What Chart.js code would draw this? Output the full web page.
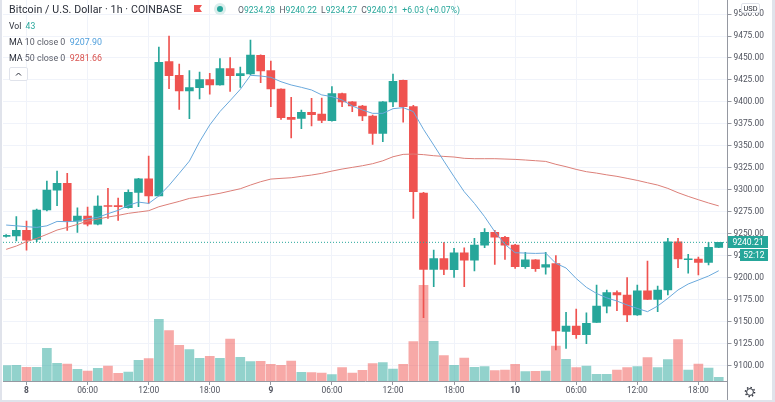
<!DOCTYPE html>
<html>
<head>
<meta charset="utf-8">
<title>Bitcoin / U.S. Dollar</title>
<script src="https://cdn.jsdelivr.net/npm/chart.js@4"></script>
<style>
    html, body { margin: 0; padding: 0; background: #fff; overflow: hidden; }
    #wrap { position: relative; width: 775px; height: 402px; font-family: Roboto, sans-serif; color: #2a2e39; filter: blur(0.3px); }
    canvas { position: absolute; left: 0; top: 0; }
    .txt { position: absolute; white-space: pre; font-size: 8.6px; line-height: 12px; }
    .ma { font-size: 8.9px; }
    .title { font-size: 10.6px; left: 9px; top: 3.5px; letter-spacing: 0.1px; color: #2a2e39; }
    .green { color: #26a69a; }
    .grey { color: #5d606b; }
    .strip { position: absolute; background: #e0e3eb; }
    .flag { position: absolute; left: 194px; top: 5px; width: 8px; height: 7px; background: #ef5350;
            clip-path: polygon(0 0, 100% 0, 70% 50%, 100% 100%, 0 100%); }
    .ring { position: absolute; left: 214px; top: 3px; width: 12px; height: 12px; border-radius: 50%; background: #d9eeec; }
    .dot { position: absolute; left: 217px; top: 6px; width: 6px; height: 6px; border-radius: 50%; background: #26a69a; }
    .fold { position: absolute; left: 9px; top: 67px; width: 19px; height: 14px; border: 1px solid #e0e3eb; border-radius: 2px;
            background: #fff; box-sizing: border-box; }
    .box { position: absolute; background: #26a69a; color: #fff; font-size: 8.6px; line-height: 12px; text-align: center; }
    .usd { position: absolute; left: 741px; top: 3px; width: 19px; height: 10px; background: #fff; border: 1px solid #e0e3eb;
           border-radius: 2px; font-size: 7.4px; line-height: 9px; text-align: center; box-sizing: border-box; color: #2a2e39; }
    .vline { position: absolute; left: 727px; top: 381px; width: 1px; height: 19px; background: #9598a1; }
</style>
</head>
<body>
<div id="wrap">
    <canvas id="priceChart" width="775" height="402"></canvas>
    <div class="strip" style="left:0;top:0;width:2px;height:402px"></div>
    <div class="strip" style="left:772px;top:0;width:3px;height:402px"></div>
    <div class="strip" style="left:0;top:400px;width:775px;height:2px"></div>
    <div class="vline"></div>

    <div class="txt title">Bitcoin / U.S. Dollar · 1h · COINBASE</div>
    <div class="flag"></div>
    <div class="ring"></div>
    <div class="dot"></div>
    <div class="txt" style="left:238px;top:3.5px"><span class="grey">O</span><span class="green">9234.28</span>  <span class="grey">H</span><span class="green">9240.22</span>  <span class="grey">L</span><span class="green">9234.27</span>  <span class="grey">C</span><span class="green">9240.21</span>  <span class="green">+6.03 (+0.07%)</span></div>
    <div class="txt" style="left:9px;top:19.5px">Vol  <span class="green">43</span></div>
    <div class="txt ma" style="left:9px;top:35.5px">MA <span class="grey">10 close 0</span>  <span style="color:#4f9fdc">9207.90</span></div>
    <div class="txt ma" style="left:9px;top:52px">MA <span class="grey">50 close 0</span>  <span style="color:#d9534f">9281.66</span></div>
    <div class="fold">
        <svg width="17" height="12" style="position:absolute;left:0;top:0"><path d="M6 7.5 L8.5 5 L11 7.5" fill="none" stroke="#2a2e39" stroke-width="1"/></svg>
    </div>

    <div class="usd">USD</div>
    <div class="box" style="left:728px;top:236px;width:40px;height:12px">9240.21</div>
    <div class="box" style="left:740px;top:249px;width:28px;height:12px">52:12</div>

    <svg width="12" height="12" style="position:absolute;left:744px;top:385.5px">
        <circle cx="6" cy="6" r="3.4" fill="none" stroke="#2a2e39" stroke-width="1"/>
        <circle cx="6" cy="6" r="4.6" fill="none" stroke="#2a2e39" stroke-width="1.4" stroke-dasharray="1.4 2.2"/>
    </svg>
</div>

<script>
/* ==================== Data ==================== */
const opens = [9247, 9247.4, 9254, 9243.6, 9277, 9299.7, 9307.3, 9264.4, 9270, 9261,
    9282, 9281.5, 9279.6, 9297, 9312.6, 9293, 9445.8, 9430.3, 9412.5, 9416.2,
    9425.3, 9419.3, 9437.9, 9429.9, 9432, 9453, 9435.6, 9414.7, 9382.5, 9381.3,
    9388.2, 9386.3, 9378.7, 9409.4, 9400, 9395.4, 9384, 9364.3, 9400, 9424.6,
    9394.6, 9296.3, 9209.4, 9221.6, 9209, 9228.4, 9220, 9237, 9251.5, 9246,
    9237, 9212.5, 9220.4, 9212, 9216, 9138.9, 9145, 9135, 9149, 9167.7,
    9183, 9180.3, 9157.5, 9185, 9175.3, 9186, 9240.9, 9220.4, 9221.2, 9217.4,
    9234.28];
const highs = [9249, 9269.4, 9264.4, 9278, 9310, 9321.3, 9318.7, 9279.6, 9280.4, 9293,
    9301.6, 9290.6, 9300, 9313, 9338.4, 9462.5, 9475, 9443, 9435.6, 9434,
    9432.6, 9449.2, 9450.4, 9439.8, 9470.5, 9453.5, 9446.6, 9415, 9405.2, 9390.8,
    9404, 9404.5, 9417.4, 9410, 9400.5, 9396, 9385, 9400.5, 9431.8, 9425,
    9396, 9297, 9231.4, 9239.8, 9233.3, 9234, 9244.7, 9256, 9253.8, 9247,
    9238, 9228.8, 9220.6, 9228.8, 9225, 9160.5, 9164.3, 9160, 9191.6, 9186,
    9185, 9200, 9191.6, 9218.9, 9190.5, 9244.7, 9244.7, 9226.5, 9223.5, 9240.2,
    9240.22];
const lows = [9246, 9241.7, 9231.4, 9241, 9276, 9281.9, 9253.8, 9251.5, 9259, 9260,
    9267.5, 9265.2, 9279, 9280.8, 9284.5, 9293, 9415, 9391.6, 9381, 9403.3,
    9408.7, 9419, 9412, 9416.6, 9430.6, 9422, 9394.6, 9380, 9359, 9369.6,
    9372.6, 9376.4, 9378, 9394.6, 9389, 9378.7, 9351.7, 9354.7, 9394.6, 9377,
    9267.5, 9154.5, 9189.7, 9203.4, 9200.4, 9189.7, 9207.6, 9234, 9215, 9220.8,
    9210.6, 9210.6, 9207, 9204, 9117.7, 9119.6, 9131, 9125, 9149, 9160,
    9162.4, 9150, 9157, 9175, 9161.3, 9180.3, 9211.3, 9205, 9203, 9214.4,
    9234.27];
const closes = [9248, 9254, 9242.8, 9277, 9299.7, 9307.3, 9264.4, 9270, 9261, 9281.5,
    9281, 9280.8, 9297, 9312.6, 9293, 9445, 9429.9, 9412.5, 9416.2, 9425.3,
    9419.3, 9437.9, 9429.9, 9432.2, 9453.4, 9435.2, 9414.7, 9382, 9380.2, 9388.2,
    9385.5, 9379, 9409.4, 9400, 9395.4, 9384, 9364.3, 9400, 9423.4, 9394.6,
    9297.8, 9209.4, 9221.6, 9209.4, 9228.4, 9220, 9237, 9251.5, 9246, 9237,
    9212.5, 9220.4, 9210.2, 9215, 9139.3, 9145, 9135, 9148, 9167.7, 9183,
    9180.3, 9157.5, 9185, 9175.3, 9186, 9240.9, 9221.2, 9221.2, 9217.4, 9234.5,
    9240.21];
const volumes = [184, 188, 164, 164, 392, 212, 204, 140, 120, 152,
    180, 92, 108, 248, 268, 740, 604, 428, 376, 272,
    296, 272, 504, 284, 232, 236, 200, 188, 240, 104,
    100, 96, 76, 160, 96, 128, 208, 220, 144, 200,
    472, 1148, 476, 304, 188, 276, 164, 172, 124, 132,
    200, 112, 116, 120, 420, 260, 160, 180, 80, 80,
    132, 160, 172, 280, 160, 256, 496, 132, 204, 156,
    43];
const ma10 = [9259.9, 9259, 9258, 9257.2, 9259, 9264, 9263.7, 9264.4, 9267, 9268.6,
    9272.8, 9276.6, 9282.3, 9286, 9284.5, 9293, 9305, 9318.7, 9332.7, 9354.7,
    9373.8, 9389, 9401.5, 9414.3, 9430.3, 9429.5, 9428, 9423, 9419.3, 9416.6,
    9413.6, 9408, 9406, 9402.2, 9395.4, 9390.8, 9387, 9387, 9392.3, 9393.5,
    9389, 9368.8, 9350.9, 9332.7, 9314.9, 9297.8, 9284.5, 9269.4, 9252.3, 9237.9,
    9228.4, 9228, 9227.6, 9228, 9216.3, 9211, 9199, 9189, 9182, 9177,
    9173.4, 9168.9, 9165, 9161.3, 9167.7, 9176.5, 9186, 9192.8, 9197.3, 9201.9,
    9207.9];
const ma50 = [9232.2, 9236, 9241, 9244.7, 9249.3, 9254.2, 9257.2, 9260.6, 9264.4, 9266.7,
    9269, 9270.9, 9273.2, 9274.7, 9276.2, 9280.7, 9283.8, 9286.8, 9290.2, 9292,
    9294, 9296, 9298.6, 9301.2, 9305.4, 9309.2, 9312.2, 9313, 9313.7, 9315.3,
    9316.8, 9318.7, 9321.3, 9323.6, 9325.5, 9327.4, 9329.7, 9333, 9337.6, 9340.3,
    9340.7, 9340, 9338.8, 9338, 9337.3, 9335.8, 9335.4, 9335.4, 9335.4, 9335,
    9334.6, 9333.9, 9333.1, 9332.3, 9329, 9326.3, 9323.2, 9320.6, 9319, 9317,
    9315.3, 9313, 9310.7, 9308, 9305.4, 9301.6, 9296.7, 9292.5, 9288.7, 9285,
    9281.66];
const timeTickIndexes = [2, 8, 14, 20, 26, 32, 38, 44, 50, 56, 62, 68];
const timeTickLabels = ['8', '06:00', '12:00', '18:00', '9', '06:00', '12:00', '18:00', '10', '06:00', '12:00', '18:00'];
const dayTickLabels = ['8', '9', '10'];
const lastPrice = 9240.21;

/* ==================== Colours ==================== */
const UP_COLOR = '#26a69a';
const DOWN_COLOR = '#ef5350';
const UP_VOLUME = 'rgba(38, 166, 154, 0.5)';
const DOWN_VOLUME = 'rgba(239, 83, 80, 0.5)';
const GRID_COLOR = '#f0f3fa';
const AXIS_COLOR = '#9598a1';

const isUp = i => closes[i] >= opens[i];

/* ==================== Datasets ==================== */
const volumeData = volumes.map((v, i) => ({ x: i, y: v }));
const wickData = highs.map((h, i) => ({ x: i, y: [lows[i], h] }));
const bodyData = opens.map((o, i) => ({ x: i, y: [o, closes[i]] }));
const ma10Data = ma10.map((v, i) => ({ x: i, y: v }));
const ma50Data = ma50.map((v, i) => ({ x: i, y: v }));

const X_MIN = -0.31;
const X_MAX = 70.86;

new Chart(document.getElementById('priceChart'), {
    type: 'bar',
    data: {
        datasets: [
            {
                data: volumeData,
                yAxisID: 'vol',
                grouped: false,
                barThickness: 9,
                order: 5,
                backgroundColor: volumes.map((v, i) => isUp(i) ? UP_VOLUME : DOWN_VOLUME)
            },
            {
                data: wickData,
                yAxisID: 'y',
                grouped: false,
                barThickness: 1,
                order: 4,
                backgroundColor: highs.map((v, i) => isUp(i) ? UP_COLOR : DOWN_COLOR)
            },
            {
                data: bodyData,
                yAxisID: 'y',
                grouped: false,
                barThickness: 8,
                minBarLength: 1,
                order: 3,
                backgroundColor: opens.map((v, i) => isUp(i) ? UP_COLOR : DOWN_COLOR)
            },
            {
                type: 'line',
                data: [{ x: X_MIN, y: lastPrice }, { x: X_MAX, y: lastPrice }],
                yAxisID: 'y',
                order: 2,
                borderColor: UP_COLOR,
                borderWidth: 1,
                borderDash: [1, 2],
                pointRadius: 0
            },
            {
                type: 'line',
                data: ma50Data,
                yAxisID: 'y',
                order: 1,
                borderColor: '#dc7f78',
                borderWidth: 1,
                pointRadius: 0
            },
            {
                type: 'line',
                data: ma10Data,
                yAxisID: 'y',
                order: 0,
                borderColor: '#6aa9dc',
                borderWidth: 1,
                pointRadius: 0
            }
        ]
    },
    options: {
        responsive: false,
        animation: false,
        layout: { padding: { left: 3, right: 0, top: 0, bottom: 0 } },
        plugins: {
            legend: { display: false },
            tooltip: { enabled: false }
        },
        scales: {
            x: {
                type: 'linear',
                offset: false,
                min: X_MIN,
                max: X_MAX,
                afterBuildTicks: scale => {
                    scale.ticks = timeTickIndexes.map(value => ({ value }));
                },
                afterFit: scale => {
                    scale.height = 21;
                    scale.paddingLeft = 0;
                    scale.paddingRight = 0;
                },
                border: { color: AXIS_COLOR },
                grid: { offset: false, color: GRID_COLOR, tickColor: AXIS_COLOR, tickLength: 4 },
                ticks: {
                    autoSkip: false,
                    maxRotation: 0,
                    padding: 1,
                    color: '#50535e',
                    font: ctx => ({
                        family: 'Roboto',
                        size: 8.4,
                        weight: dayTickLabels.includes(timeTickLabels[ctx.index]) ? 'bold' : 'normal'
                    }),
                    callback: (value, index) => timeTickLabels[index]
                }
            },
            y: {
                position: 'right',
                min: 9082.4,
                max: 9516,
                afterBuildTicks: scale => {
                    scale.ticks = scale.ticks.filter(t => t.value % 25 === 0);
                },
                afterFit: scale => {
                    scale.width = 47.5;
                    scale.paddingTop = 0;
                    scale.paddingBottom = 0;
                },
                border: { color: AXIS_COLOR },
                grid: { color: GRID_COLOR, tickColor: AXIS_COLOR, tickLength: 4 },
                ticks: {
                    stepSize: 25,
                    padding: 2,
                    color: '#50535e',
                    font: { family: 'Roboto', size: 8.4 },
                    callback: value => value.toFixed(2)
                }
            },
            vol: {
                display: false,
                min: 0,
                max: 4572
            }
        }
    }
});
</script>
</body>
</html>
